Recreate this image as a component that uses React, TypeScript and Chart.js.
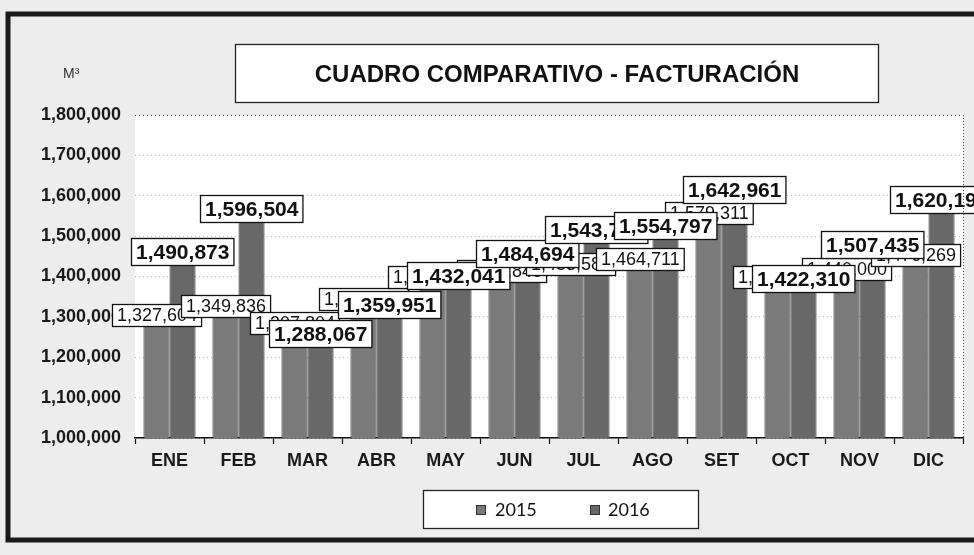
import React, { useEffect, useRef } from 'react';
import { Chart, registerables } from 'chart.js';

Chart.register(...registerables);

const months = ['ENE', 'FEB', 'MAR', 'ABR', 'MAY', 'JUN', 'JUL', 'AGO', 'SET', 'OCT', 'NOV', 'DIC'];
const seriesNames = ['2015', '2016'];
const values2015 = [1327604, 1349836, 1307804, 1366736, 1421056, 1435846, 1453588, 1464711, 1579311, 1420000, 1440000, 1476269];
const values2016 = [1490873, 1596504, 1288067, 1359951, 1432041, 1484694, 1543760, 1554797, 1642961, 1422310, 1507435, 1620195];
const yMin = 1000000;
const yMax = 1800000;
const yStep = 100000;
const titleText = 'CUADRO COMPARATIVO - FACTURACIÓN';
const unitText = 'M³';

const FONT = '"Liberation Sans", Arial, sans-serif';
const fmt = (v: number) => Math.round(v).toLocaleString('en-US');

const decorPlugin = {
  id: 'decor',
  beforeDraw(chart: any) {
    const { ctx, width, height, chartArea: a } = chart;
    ctx.save();
    ctx.fillStyle = '#ededed';
    ctx.fillRect(0, 0, width, height);
    ctx.fillStyle = '#ffffff';
    ctx.fillRect(a.left, a.top, a.right - a.left, a.bottom - a.top);
    ctx.restore();
  },
  afterDatasetsDraw(chart: any) {
    const { ctx } = chart;
    ctx.save();
    chart.data.datasets.forEach((ds: any, di: number) => {
      const meta = chart.getDatasetMeta(di);
      const bold = di === 1;
      const font = bold ? `bold 21px ${FONT}` : `18px ${FONT}`;
      const h = bold ? 27 : 22;
      meta.data.forEach((bar: any, i: number) => {
        const text = fmt(ds.data[i]);
        ctx.font = font;
        const w = ctx.measureText(text).width + 9;
        const x = Math.round(bar.x - w / 2) + 0.5;
        const y = Math.round(bar.y - 2) + 0.5;
        ctx.fillStyle = '#ffffff';
        ctx.fillRect(x, y, w, h);
        ctx.strokeStyle = '#111111';
        ctx.lineWidth = 1.3;
        ctx.strokeRect(x, y, w, h);
        ctx.fillStyle = '#111111';
        ctx.textAlign = 'center';
        ctx.textBaseline = 'middle';
        ctx.fillText(text, x + w / 2, y + h / 2 + 1);
      });
    });
    ctx.restore();
  },
  afterDraw(chart: any) {
    const { ctx, chartArea: a } = chart;
    ctx.save();
    // right dotted border of plot area
    ctx.strokeStyle = '#555555';
    ctx.lineWidth = 1;
    ctx.setLineDash([1, 2]);
    ctx.beginPath();
    ctx.moveTo(a.right + 0.5, a.top);
    ctx.lineTo(a.right + 0.5, a.bottom);
    ctx.stroke();
    ctx.setLineDash([]);

    // outer frame
    ctx.strokeStyle = '#1a1a1a';
    ctx.lineWidth = 5;
    ctx.strokeRect(8, 14, 980, 526);

    // title box
    ctx.fillStyle = '#ffffff';
    ctx.fillRect(235, 44, 643, 58);
    ctx.strokeStyle = '#222222';
    ctx.lineWidth = 1.3;
    ctx.strokeRect(235.5, 44.5, 643, 58);
    ctx.fillStyle = '#111111';
    ctx.font = `bold 24px ${FONT}`;
    ctx.textAlign = 'center';
    ctx.textBaseline = 'middle';
    ctx.fillText(titleText, 557, 75);

    // unit label
    ctx.font = `14px ${FONT}`;
    ctx.fillStyle = '#333333';
    ctx.textAlign = 'left';
    ctx.textBaseline = 'middle';
    ctx.fillText(unitText, 63, 74);

    // legend
    ctx.fillStyle = '#ffffff';
    ctx.fillRect(423, 490, 275, 38);
    ctx.strokeStyle = '#222222';
    ctx.lineWidth = 1.3;
    ctx.strokeRect(423.5, 490.5, 275, 38);
    const items = [
      { sx: 476, tx: 495 },
      { sx: 590, tx: 608 },
    ];
    chart.data.datasets.forEach((ds: any, di: number) => {
      const it = items[di];
      ctx.fillStyle = ds.backgroundColor;
      ctx.fillRect(it.sx, 505, 9, 9);
      ctx.strokeStyle = '#333333';
      ctx.lineWidth = 1;
      ctx.strokeRect(it.sx + 0.5, 505.5, 9, 9);
      ctx.fillStyle = '#111111';
      ctx.font = `18px Lato, ${FONT}`;
      ctx.textBaseline = 'middle';
      ctx.textAlign = 'left';
      ctx.fillText(ds.label, it.tx, 510);
    });
    ctx.restore();
  },
};

export default function App() {
  const ref = useRef<HTMLCanvasElement | null>(null);

  useEffect(() => {
    if (!ref.current) return;
    const chart = new Chart(ref.current, {
      type: 'bar',
      data: {
        labels: months,
        datasets: [
          {
            label: seriesNames[0],
            data: values2015,
            backgroundColor: '#7a7a7a',
            borderColor: '#2a2a2a',
            borderWidth: 1,
            categoryPercentage: 0.755,
            barPercentage: 1.0,
          },
          {
            label: seriesNames[1],
            data: values2016,
            backgroundColor: '#686868',
            borderColor: '#2a2a2a',
            borderWidth: 1,
            categoryPercentage: 0.755,
            barPercentage: 1.0,
          },
        ],
      },
      options: {
        animation: false,
        responsive: false,
        devicePixelRatio: 1,
        layout: { padding: { top: 115, right: 11, left: 0, bottom: 0 } },
        plugins: {
          legend: { display: false },
          title: { display: false },
          tooltip: { enabled: false },
        },
        scales: {
          x: {
            grid: {
              display: true,
              drawOnChartArea: false,
              drawTicks: true,
              tickLength: 6,
              tickColor: '#111111',
              tickWidth: 1.2,
              offset: true,
            },
            border: { display: true, color: '#111111', width: 1.5 },
            ticks: {
              color: '#1a1a1a',
              font: { family: FONT, size: 18, weight: 'bold' },
              padding: 6,
            },
            afterFit(scale: any) {
              scale.height = 117;
            },
          },
          y: {
            min: yMin,
            max: yMax,
            grid: {
              drawTicks: false,
              color: (c: any) => (c.tick && c.tick.value === yMax ? '#444444' : '#b5b5b5'),
              lineWidth: 1,
            },
            border: { display: false, dash: [1, 3] },
            ticks: {
              stepSize: yStep,
              color: '#1a1a1a',
              font: { family: FONT, size: 18, weight: 'bold' },
              padding: 14,
              callback: (v: any) => fmt(Number(v)),
            },
            afterFit(scale: any) {
              scale.width = 135;
            },
          },
        },
      },
      plugins: [decorPlugin],
    });
    return () => chart.destroy();
  }, []);

  return (
    <div style={{ position: 'fixed', left: 0, top: 0, width: 974, height: 555 }}>
      <canvas ref={ref} width={974} height={555} style={{ display: 'block', width: 974, height: 555 }} />
    </div>
  );
}
